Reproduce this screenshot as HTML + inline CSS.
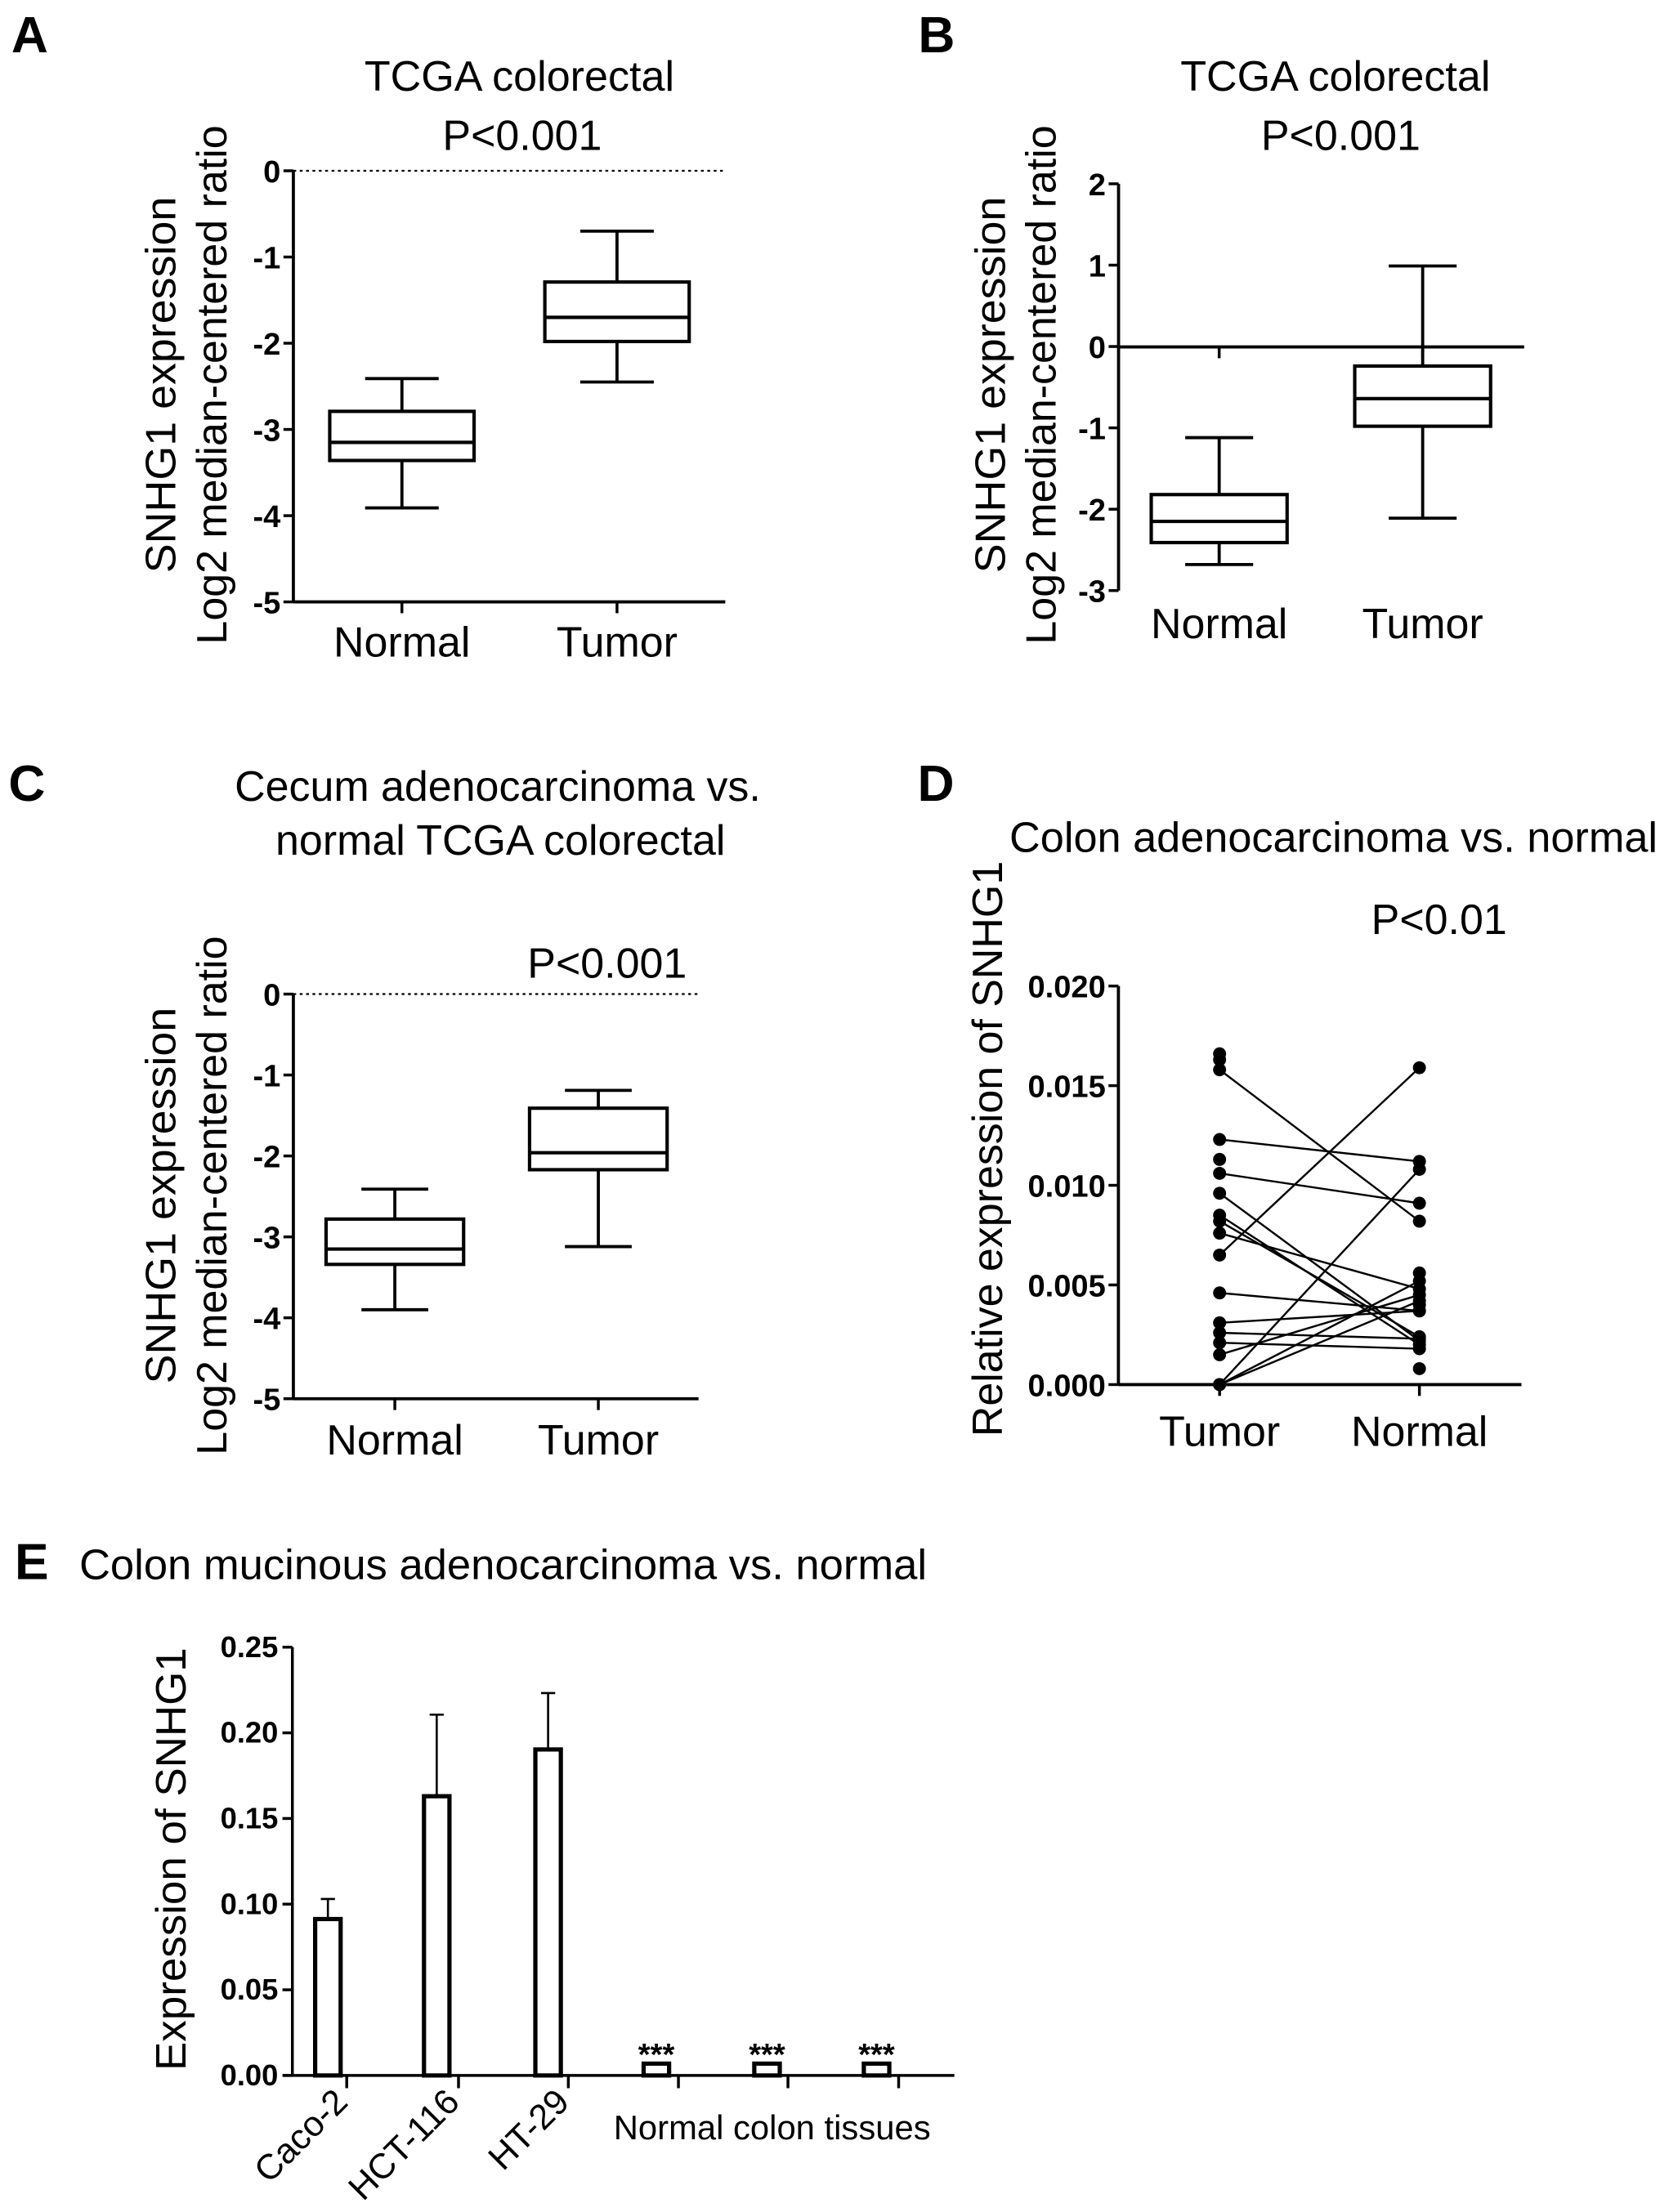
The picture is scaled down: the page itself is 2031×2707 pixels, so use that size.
<!DOCTYPE html>
<html><head><meta charset="utf-8"><style>
html,body{margin:0;padding:0;background:#fff;}
svg{display:block;font-family:"Liberation Sans",Arial,sans-serif;}
</style></head><body>
<svg id="fig" width="2031" height="2707" viewBox="0 0 1173 1563.4" xmlns="http://www.w3.org/2000/svg">
<g id="root" fill="#000"></g>
</svg>
<script>
// ---- Panel A data ----
const catsA = ["Normal","Tumor"];
const boxA_whiskerHi = [-2.41, -0.70];
const boxA_q3 = [-2.79, -1.29];
const boxA_median = [-3.15, -1.70];
const boxA_q1 = [-3.36, -1.98];
const boxA_whiskerLo = [-3.91, -2.45];
const ticksA = [0,-1,-2,-3,-4,-5];
// ---- Panel B data ----
const catsB = ["Normal","Tumor"];
const boxB_whiskerHi = [-1.12, 0.99];
const boxB_q3 = [-1.82, -0.24];
const boxB_median = [-2.15, -0.64];
const boxB_q1 = [-2.41, -0.98];
const boxB_whiskerLo = [-2.68, -2.11];
const ticksB = [2,1,0,-1,-2,-3];
// ---- Panel C data ----
const catsC = ["Normal","Tumor"];
const boxC_whiskerHi = [-2.41, -1.19];
const boxC_q3 = [-2.78, -1.41];
const boxC_median = [-3.15, -1.96];
const boxC_q1 = [-3.34, -2.17];
const boxC_whiskerLo = [-3.90, -3.12];
const ticksC = [0,-1,-2,-3,-4,-5];
// ---- Panel D data ----
const catsD = ["Tumor","Normal"];
const pairTumor  = [0.0158,0.0123,0.0106,0.0096,0.0085,0.0082,0.0076,0.0065,0.0046,0.0031,0.0026,0.0021,0.0015,0,0,0];
const pairNormal = [0.0082,0.0112,0.0091,0.0022,0.0020,0.0024,0.0048,0.0159,0.0037,0.0037,0.0023,0.0018,0.0045,0.0108,0.0052,0.0042];
const tumorOnly = [0.0166,0.0163,0.0113];
const normalOnly = [0.0056,0.0008,0.0040];
const ticksD = [0.000,0.005,0.010,0.015,0.020];
const tickLabelsD = ["0.000","0.005","0.010","0.015","0.020"];
// ---- Panel E data ----
const catsE = ["Caco-2","HCT-116","HT-29","N1","N2","N3"];
const barE = [0.0913,0.163,0.1903,0.0069,0.0069,0.0069];
const errE = [0.103,0.2106,0.2232,null,null,null];
const starsE = ["","","","***","***","***"];
const ticksE = [0,0.05,0.10,0.15,0.20,0.25];
const tickLabelsE = ["0.00","0.05","0.10","0.15","0.20","0.25"];

const NS="http://www.w3.org/2000/svg";
const root=document.getElementById('root');
function el(tag,attrs,parent){const e=document.createElementNS(NS,tag);for(const k in attrs)e.setAttribute(k,attrs[k]);(parent||root).appendChild(e);return e;}
function txt(s,x,y,size,opts,parent){opts=opts||{};const t=el('text',{x:x,y:y,'font-size':size,'text-anchor':opts.anchor||'middle','font-weight':opts.bold?'bold':'normal'},parent);if(opts.rot)t.setAttribute('transform','rotate('+opts.rot+' '+x+' '+y+')');if(opts.len){t.setAttribute('textLength',opts.len);t.setAttribute('lengthAdjust','spacingAndGlyphs');}t.textContent=s;return t;}
function ln(x1,y1,x2,y2,w,parent,dash){const l=el('line',{x1:x1,y1:y1,x2:x2,y2:y2,stroke:'#000','stroke-width':w||2},parent);if(dash)l.setAttribute('stroke-dasharray',dash);return l;}

function boxPanel(cfg){
  const g=el('g',{});
  
  
  const y=v=>cfg.y0+(cfg.top-v)*cfg.unit;
  const yBot=y(cfg.ticks[cfg.ticks.length-1]);
  const ya=ln(cfg.ax,y(cfg.ticks[0]),cfg.ax,yBot,2.2,g);
  
  cfg.ticks.forEach(t=>{ln(cfg.ax-7,y(t),cfg.ax,y(t),2,g);
    const tl=txt(String(t),cfg.ax-9,y(t)+8,22,{anchor:'end',bold:true},g);
    });
  const xa=ln(cfg.ax,cfg.xAxisY,cfg.axEnd,cfg.xAxisY,2.2,g);
  
  if(cfg.dotted){ln(cfg.ax,y(0),cfg.axEnd,y(0),1.3,g,'2,2.5');}
  cfg.cats.forEach((c,i)=>{
    const cx=cfg.cx[i];
    ln(cx,cfg.xAxisY,cx,cfg.xAxisY+8,2,g);
    const bg=el('g',{},g);
    
    
    ln(cx,y(cfg.wh[i]),cx,y(cfg.q3[i]),2.2,bg);
    ln(cx,y(cfg.q1[i]),cx,y(cfg.wl[i]),2.2,bg);
    ln(cx-cfg.cap,y(cfg.wh[i]),cx+cfg.cap,y(cfg.wh[i]),2.2,bg);
    ln(cx-cfg.cap,y(cfg.wl[i]),cx+cfg.cap,y(cfg.wl[i]),2.2,bg);
    el('rect',{x:cx-cfg.half,y:y(cfg.q3[i]),width:2*cfg.half,height:y(cfg.q1[i])-y(cfg.q3[i]),fill:'#fff',stroke:'#000','stroke-width':2.4},bg);
    ln(cx-cfg.half,y(cfg.med[i]),cx+cfg.half,y(cfg.med[i]),2.4,bg);
    const cl=txt(c,cx,cfg.catY,30,{},g);
    
  });
  return g;
}

// Panel A
txt('A',21,37,36,{bold:true});
txt('TCGA colorectal',367,64,30,{len:219});
txt('P<0.001',369,106,30);
txt('SNHG1 expression',124,272,30,{rot:-90,len:266});
txt('Log2 median-centered ratio',160,272,30,{rot:-90});
boxPanel({name:'panel-a',cats:catsA,wh:boxA_whiskerHi,q3:boxA_q3,med:boxA_median,q1:boxA_q1,wl:boxA_whiskerLo,ticks:ticksA,
  top:0,y0:120.7,unit:60.94,ax:207.3,axEnd:512.5,xAxisY:425.4,dotted:true,cx:[284,436],half:51,cap:26,catY:464});

// Panel B
txt('B',661.8,37,36,{bold:true});
txt('TCGA colorectal',943.6,64,30,{len:219});
txt('P<0.001',947.4,106,30);
txt('SNHG1 expression',710,272,30,{rot:-90,len:266});
txt('Log2 median-centered ratio',746,272,30,{rot:-90});
boxPanel({name:'panel-b',cats:catsB,wh:boxB_whiskerHi,q3:boxB_q3,med:boxB_median,q1:boxB_q1,wl:boxB_whiskerLo,ticks:ticksB,
  top:2,y0:129.9,unit:57.5,ax:790.4,axEnd:1077,xAxisY:245.2,dotted:false,cx:[861.5,1005.3],half:48,cap:24,catY:451});

// Panel C
txt('C',19,566,36,{bold:true});
txt('Cecum adenocarcinoma vs.',351.7,566,30);
txt('normal TCGA colorectal',353.6,604,30);
txt('P<0.001',429,691,30);
txt('SNHG1 expression',124,845,30,{rot:-90,len:266});
txt('Log2 median-centered ratio',160,845,30,{rot:-90});
boxPanel({name:'panel-c',cats:catsC,wh:boxC_whiskerHi,q3:boxC_q3,med:boxC_median,q1:boxC_q1,wl:boxC_whiskerLo,ticks:ticksC,
  top:0,y0:702.6,unit:57.2,ax:207.3,axEnd:493.6,xAxisY:988.6,dotted:true,cx:[279,422.8],half:48.6,cap:23.6,catY:1028});

// Panel D
(function(){
  const g=el('g',{});
  
  
  txt('D',661.3,566,36,{bold:true},g);
  txt('Colon adenocarcinoma vs. normal',942.3,602,30,{len:458},g);
  txt('P<0.01',1016.9,660,30,{},g);
  txt('Relative expression of SNHG1',708,812,30,{rot:-90},g);
  const ax=790.3, y0=978.6, yTop=696.9;
  const y=v=>y0-(v/0.020)*(y0-yTop);
  const cx=[861.8,1003];
  const ya=ln(ax,yTop,ax,y0,2.2,g);
  const xa=ln(ax,y0,1075.1,y0,2.2,g);
  ticksD.forEach((t,i)=>{ln(ax-7,y(t),ax,y(t),2,g);
    const tl=txt(tickLabelsD[i],ax-9,y(t)+8,22,{anchor:'end',bold:true},g);
    });
  catsD.forEach((c,i)=>{ln(cx[i],y0,cx[i],y0+8,2,g);
    const cl=txt(c,cx[i],1022,30,{},g);});
  pairTumor.forEach((v,i)=>{
    const l=ln(cx[0],y(v),cx[1],y(pairNormal[i]),1.4,g);
    
    
  });
  const dot=(x,v)=>{const c=el('circle',{cx:x,cy:y(v),r:4.6,fill:'#000'},g);
    
    };
  pairTumor.forEach(v=>dot(cx[0],v));
  pairNormal.forEach(v=>dot(cx[1],v));
  tumorOnly.forEach(v=>dot(cx[0],v));
  normalOnly.forEach(v=>dot(cx[1],v));
})();

// Panel E
(function(){
  const g=el('g',{});
  
  
  txt('E',22.4,1116,36,{bold:true},g);
  txt('Colon mucinous adenocarcinoma vs. normal',56,1116,30,{anchor:'start',len:599},g);
  txt('Expression of SNHG1',131,1314,30,{rot:-90,len:299},g);
  const ax=206.6, y0=1466.9, yTop=1164.2;
  const y=v=>y0-(v/0.25)*(y0-yTop);
  const bx=[231.7,308.6,387.3,463.8,542,619.4];
  const tx=[245,324,401.6,479.4,556.8,635];
  const ya=ln(ax,yTop,ax,y0,2,g);
  const xa=ln(199.9,y0,674.4,y0,2,g);
  ticksE.forEach((t,i)=>{ln(ax-7,y(t),ax,y(t),2,g);
    const tl=txt(tickLabelsE[i],ax-10,y(t)+7,21,{anchor:'end',bold:true},g);
    });
  catsE.forEach((c,i)=>{
    ln(tx[i],y0,tx[i],y0+9,2,g);
    if(errE[i]!==null){ln(bx[i],y(errE[i]),bx[i],y(barE[i]),1.5,g);ln(bx[i]-5,y(errE[i]),bx[i]+5,y(errE[i]),1.5,g);}
    const r=el('rect',{x:bx[i]-9,y:y(barE[i]),width:18,height:y0-y(barE[i]),fill:'#fff',stroke:'#000','stroke-width':3},g);
    
    
    if(starsE[i]){const s=txt(starsE[i],bx[i],y(barE[i])+1,22,{bold:true},g);}
  });
  [0,1,2].forEach(i=>{const t=txt(catsE[i],tx[i]+2,1487,25,{anchor:'end',rot:-45},g);
    });
  const nl=txt('Normal colon tissues',545.6,1512,24,{len:224},g);
  
})();
</script>
</body></html>
